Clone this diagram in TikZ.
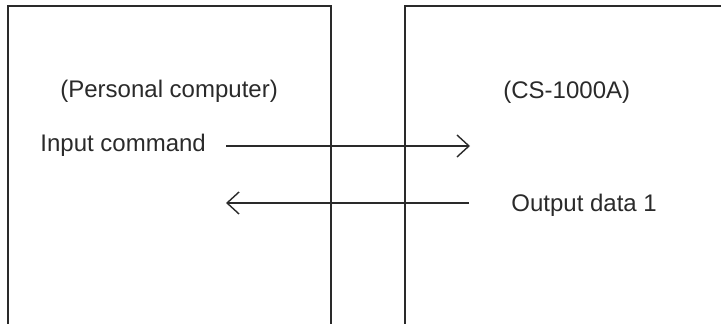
\documentclass[tikz,border=0pt]{standalone}
\usepackage{fontspec}
\setmainfont{Liberation Sans}
\usetikzlibrary{arrows.meta}
\definecolor{ink}{HTML}{2A2A2A}
\tikzset{
  frame/.style={draw=ink, line width=0.75pt},
  lbl/.style={anchor=base west, inner sep=0pt, text=ink, font=\fontsize{12}{14}\selectfont},
  conn/.style={draw=ink, line width=0.7pt, -{Straight Barb[length=6pt,width=11pt,line width=0.7pt]}}
}
\begin{document}
\begin{tikzpicture}[x=0.5pt,y=-0.5pt]
\useasboundingbox (0,0) rectangle (721,324);
% boxes (open at the bottom / right)
\draw[frame] (8,324) -- (8,6) -- (331,6) -- (331,324);
\draw[frame] (405,324) -- (405,6) -- (721,6);
% labels
\node[lbl] (pc) at (60,98) {(Personal computer)};
\node[lbl] (cs) at (503,99) {(CS-1000A)};
\node[lbl] (in) at (40,152) {Input command};
\node[lbl] (out) at (511,212) {Output data 1};
% connector end points
\coordinate (inS) at (226,146);
\coordinate (inE) at (470,146);
\coordinate (outS) at (469,203);
\coordinate (outE) at (226,203);
\draw[conn] (inS) -- (inE);
\draw[conn] (outS) -- (outE);
\end{tikzpicture}
\end{document}
